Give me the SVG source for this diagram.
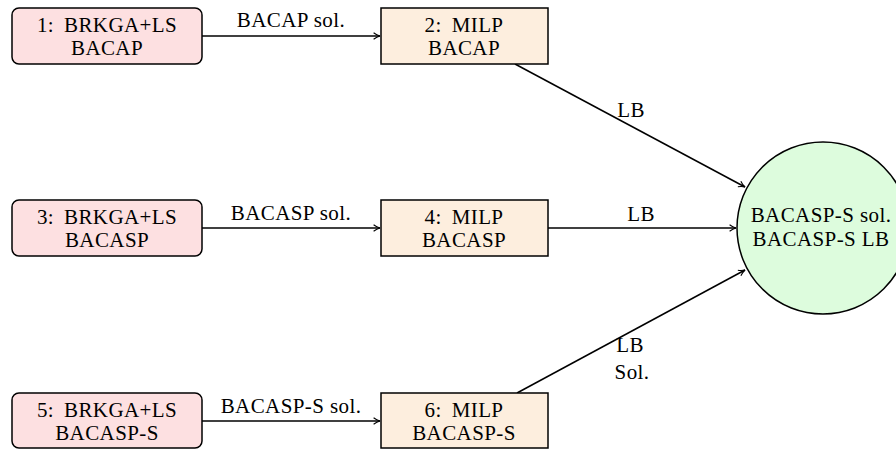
<svg xmlns="http://www.w3.org/2000/svg" width="896" height="449" viewBox="0 0 896 449" font-family="Liberation Serif, DejaVu Serif, serif">
<style>
text{font-family:"Liberation Serif","DejaVu Serif",serif;font-size:21px;letter-spacing:0.4px;fill:#000;text-anchor:middle}
.ga{fill:#fde0e1;stroke:#000;stroke-width:1.5}
.mi{fill:#fdeede;stroke:#000;stroke-width:1.5}
.ci{fill:#ddfcdd;stroke:#000;stroke-width:1.5}
.ed{stroke:#000;stroke-width:1.5;fill:none;marker-end:url(#ah)}
</style>
<defs>
<marker id="ah" viewBox="0 0 10 10" refX="9" refY="5" markerWidth="8" markerHeight="8" markerUnits="userSpaceOnUse" orient="auto">
<path d="M1,1 Q5,4 9,5 Q5,6 1,9" fill="none" stroke="#000" stroke-width="1.4"/>
</marker>
</defs>
<rect width="896" height="449" fill="#fff"/>
<g id="connectors">
<line class="ed" x1="202" y1="36" x2="380" y2="36"/>
<text x="291" y="27">BACAP sol.</text>
<line class="ed" x1="515" y1="64" x2="745" y2="187"/>
<text x="631" y="117">LB</text>
<line class="ed" x1="548" y1="228" x2="736" y2="228"/>
<text x="641" y="221">LB</text>
<line class="ed" x1="517" y1="393" x2="745" y2="270"/>
<text x="630" y="352">LB</text>
<text x="632" y="379">Sol.</text>
<line class="ed" x1="202" y1="421" x2="380" y2="421"/>
<text x="291" y="413">BACASP-S sol.</text>
<line class="ed" x1="202" y1="228" x2="380" y2="228"/>
<text x="291" y="220">BACASP sol.</text>
</g>
<g id="n1"><rect class="ga" x="12" y="8" width="190" height="56" rx="7"/><text x="107" y="32">1:<tspan dx="10">BRKGA+LS</tspan></text><text x="107" y="55">BACAP</text></g>
<g id="n2"><rect class="mi" x="381" y="8" width="167" height="56"/><text x="464" y="32">2:<tspan dx="10">MILP</tspan></text><text x="464" y="55">BACAP</text></g>
<g id="n3"><rect class="ga" x="12" y="200" width="190" height="56" rx="7"/><text x="107" y="224">3:<tspan dx="10">BRKGA+LS</tspan></text><text x="107" y="247">BACASP</text></g>
<g id="n4"><rect class="mi" x="381" y="200" width="167" height="56"/><text x="464" y="224">4:<tspan dx="10">MILP</tspan></text><text x="464" y="247">BACASP</text></g>
<g id="n5"><rect class="ga" x="12" y="393" width="190" height="55" rx="7"/><text x="107" y="417">5:<tspan dx="10">BRKGA+LS</tspan></text><text x="107" y="440">BACASP-S</text></g>
<g id="n6"><rect class="mi" x="381" y="393" width="167" height="55"/><text x="464" y="417">6:<tspan dx="10">MILP</tspan></text><text x="464" y="440">BACASP-S</text></g>
<g id="n7"><circle class="ci" cx="823" cy="228" r="86"/><text x="821" y="222">BACASP-S sol.</text><text x="821" y="246">BACASP-S LB</text></g>
</svg>
